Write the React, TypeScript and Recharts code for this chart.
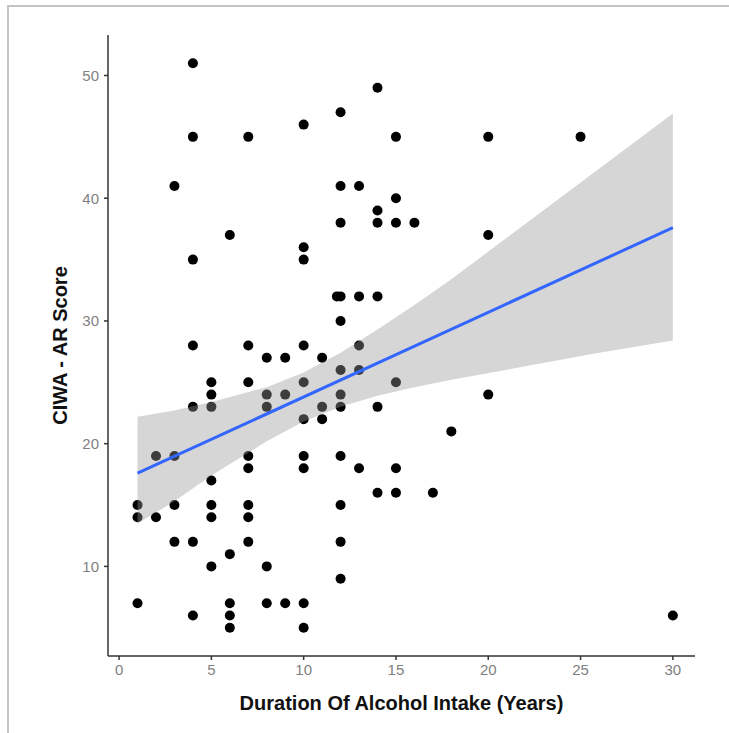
import { ComposedChart, Scatter, Area, Line, XAxis, YAxis } from 'recharts';

// observed points (duration in years, CIWA-AR score)
const durationYears = [
  1, 1, 1,
  2, 2,
  3, 3, 3, 3,
  4, 4, 4, 4, 4, 4, 4,
  5, 5, 5, 5, 5, 5, 5,
  6, 6, 6, 6, 6,
  7, 7, 7, 7, 7, 7, 7, 7,
  8, 8, 8, 8, 8,
  9, 9, 9,
  10, 10, 10, 10, 10, 10, 10, 10, 10, 10,
  11, 11, 11,
  12, 12, 12, 12, 11.8, 12, 12, 12, 12, 12, 12, 12, 12,
  13, 13, 13, 13, 13,
  14, 14, 14, 14, 14, 14,
  15, 15, 15, 15, 15, 15,
  16, 17, 18,
  20, 20, 20,
  25, 30,
];
const ciwaScores = [
  15, 14, 7,
  19, 14,
  41, 19, 15, 12,
  51, 45, 35, 28, 23, 12, 6,
  25, 24, 23, 17, 15, 14, 10,
  37, 11, 7, 6, 5,
  45, 28, 25, 19, 18, 15, 14, 12,
  27, 24, 23, 10, 7,
  27, 24, 7,
  46, 36, 35, 28, 25, 22, 19, 18, 7, 5,
  27, 23, 22,
  47, 41, 38, 32, 32, 30, 26, 24, 23, 19, 15, 12, 9,
  41, 32, 28, 26, 18,
  49, 39, 38, 32, 23, 16,
  45, 40, 38, 25, 18, 16,
  38, 16, 21,
  45, 37, 24,
  45, 6,
];

// linear fit and its confidence band
const fitX = [1, 30];
const fitY = [17.6, 37.6];
const bandX = [1, 3, 5, 8, 10, 12, 14, 16, 18, 22, 26, 30];
const bandLow = [13.5, 15.3, 17.4, 20.2, 21.8, 23.0, 23.9, 24.6, 25.2, 26.3, 27.4, 28.4];
const bandHigh = [22.2, 22.7, 23.4, 24.6, 25.8, 27.4, 29.3, 31.3, 33.4, 37.9, 42.4, 46.9];

const xTicks = [0, 5, 10, 15, 20, 25, 30];
const yTicks = [10, 20, 30, 40, 50];

const points = durationYears.map((x, i) => ({ x, y: ciwaScores[i] }));
const fitData = fitX.map((x, i) => ({ x, fit: fitY[i] }));
const bandData = bandX.map((x, i) => ({ x, band: [bandLow[i], bandHigh[i]] }));

const font = '"Liberation Sans", Arial, sans-serif';
const tickStyle = { fill: '#7f7f7f', fontSize: 15, fontFamily: font };
const titleStyle = { fill: '#111', fontSize: 20, fontWeight: 'bold' as const, fontFamily: font };

const YTitle = (props: any) => {
  const { viewBox } = props;
  const cx = viewBox.x + 12;
  const cy = viewBox.y + viewBox.height / 2;
  return (
    <text x={cx} y={cy} transform={`rotate(-90, ${cx}, ${cy})`} textAnchor="middle" dominantBaseline="central" style={titleStyle}>
      CIWA - AR Score
    </text>
  );
};

const XTitle = (props: any) => {
  const { viewBox } = props;
  const cx = viewBox.x + viewBox.width / 2;
  return (
    <text x={cx} y={viewBox.y + 47} textAnchor="middle" dominantBaseline="central" style={titleStyle}>
      Duration Of Alcohol Intake (Years)
    </text>
  );
};

export default function App() {
  return (
    <div style={{ position: 'fixed', left: 0, top: 0, width: 729, height: 733, background: '#fff', overflow: 'hidden' }}>
      <div
        style={{
          position: 'absolute',
          left: 7,
          top: 5,
          width: 722,
          height: 728,
          borderTop: '2px solid #c4c4c4',
          borderLeft: '2px solid #c4c4c4',
          boxSizing: 'border-box',
        }}
      />
      <div style={{ position: 'absolute', left: 0, top: 0 }}>
        <ComposedChart width={729} height={733} margin={{ top: 35, right: 34, bottom: 27, left: 48 }}>
          <XAxis
            type="number"
            dataKey="x"
            domain={[-0.6, 31.2]}
            ticks={xTicks}
            allowDataOverflow
            height={50}
            stroke="#333"
            strokeWidth={1.5}
            tickSize={4}
            tickMargin={4}
            tick={tickStyle}
            label={{ content: XTitle }}
          />
          <YAxis
            type="number"
            domain={[2.7, 53.3]}
            ticks={yTicks}
            allowDataOverflow
            width={60}
            stroke="#333"
            strokeWidth={1.5}
            tickSize={4}
            tickMargin={5}
            tick={tickStyle}
            label={{ content: YTitle }}
          />
          <Scatter
            data={points}
            dataKey="y"
            zIndex={50}
            isAnimationActive={false}
            shape={(p: any) => <circle cx={p.cx} cy={p.cy} r={5} fill="#000" />}
          />
          <Area
            data={bandData}
            dataKey="band"
            type="linear"
            stroke="none"
            fill="#999999"
            fillOpacity={0.4}
            zIndex={100}
            isAnimationActive={false}
          />
          <Line
            data={fitData}
            dataKey="fit"
            type="linear"
            stroke="#3366ff"
            strokeWidth={3}
            dot={false}
            isAnimationActive={false}
          />
        </ComposedChart>
      </div>
    </div>
  );
}
